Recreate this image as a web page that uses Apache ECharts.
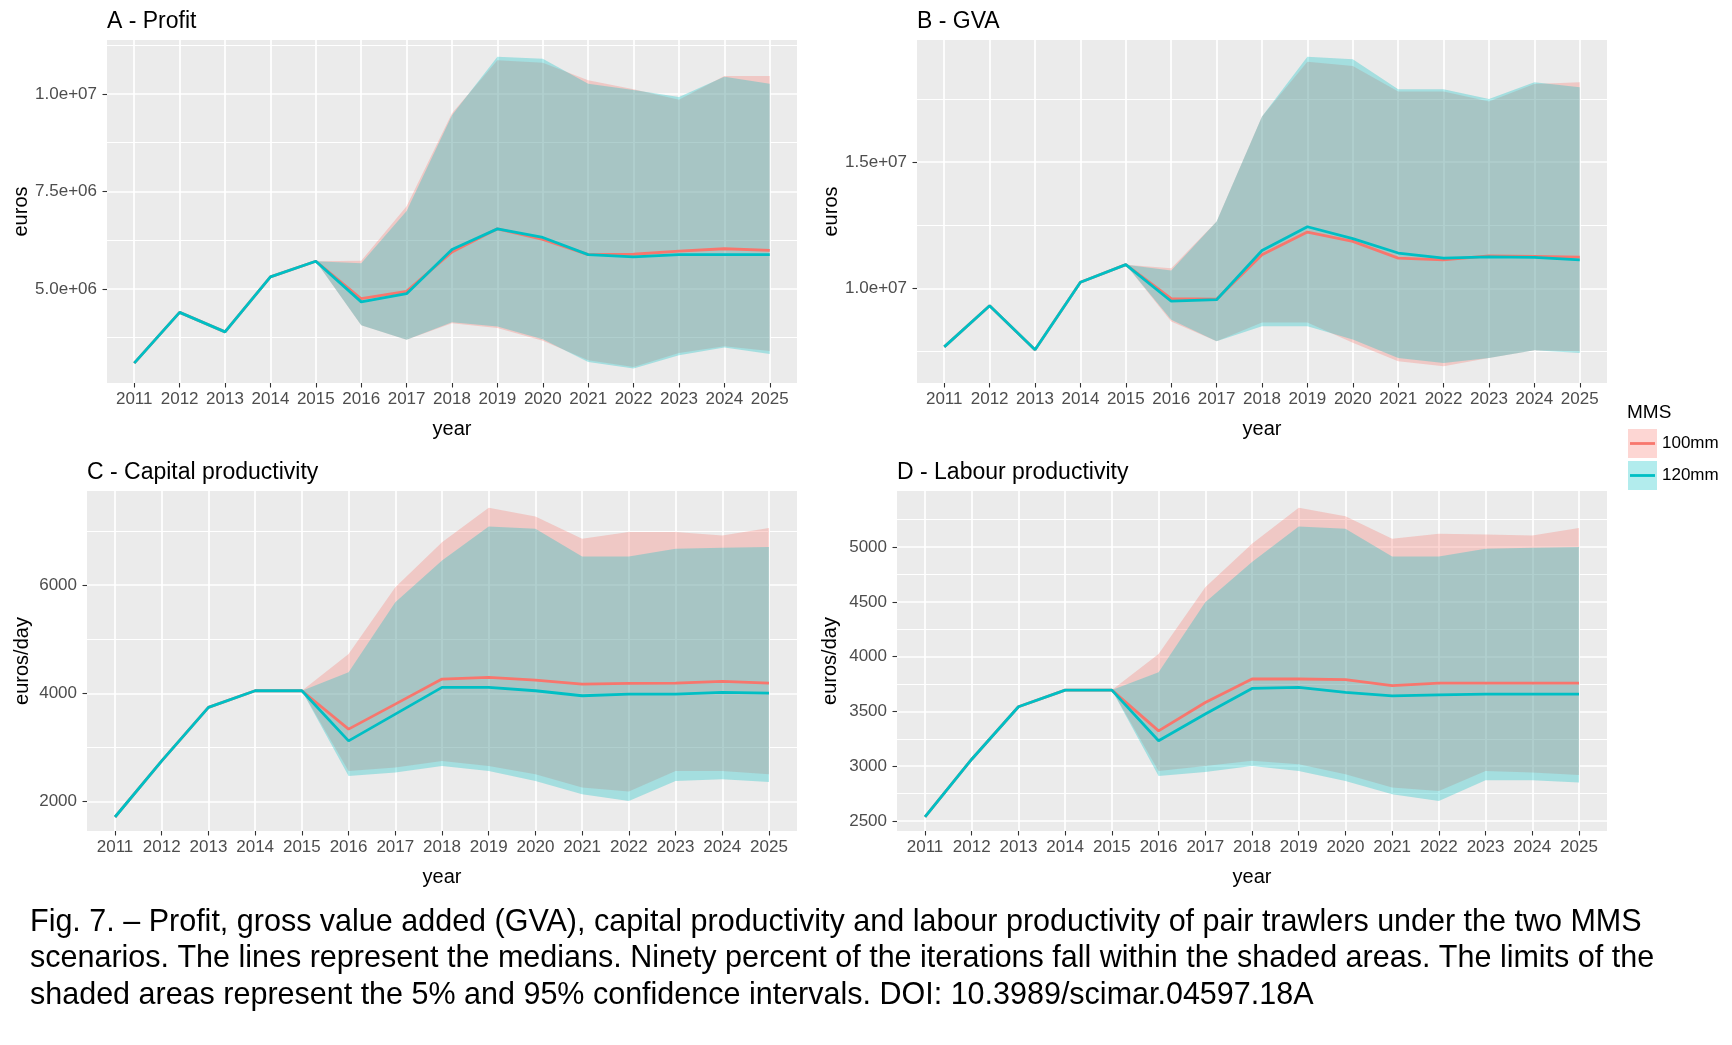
<!DOCTYPE html>
<html>
<head>
<meta charset="utf-8">
<script src="https://cdn.jsdelivr.net/npm/echarts@6/dist/echarts.min.js"></script>
<style>
html, body { margin: 0; padding: 0; background: #fff; }
#chart { width: 1732px; height: 1045px; }
</style>
</head>
<body>
<div id="chart"></div>
<script>
// years on the x axis, ribbons only start in 2015
var years = [2011, 2012, 2013, 2014, 2015, 2016, 2017, 2018, 2019, 2020, 2021, 2022, 2023, 2024, 2025];
var bandYears = [2015, 2016, 2017, 2018, 2019, 2020, 2021, 2022, 2023, 2024, 2025];
var scenarios = ['100mm', '120mm'];

// A - Profit (euros)
var profitMed100 = [3.10e6, 4.40e6, 3.90e6, 5.31e6, 5.71e6, 4.75e6, 4.94e6, 5.95e6, 6.54e6, 6.27e6, 5.88e6, 5.89e6, 5.97e6, 6.03e6, 5.99e6];
var profitMed120 = [3.10e6, 4.40e6, 3.90e6, 5.31e6, 5.71e6, 4.67e6, 4.88e6, 6.01e6, 6.54e6, 6.32e6, 5.88e6, 5.82e6, 5.88e6, 5.88e6, 5.88e6];
var profitLo100 = [5.71e6, 4.07e6, 3.70e6, 4.12e6, 4.00e6, 3.67e6, 3.17e6, 3.00e6, 3.36e6, 3.53e6, 3.41e6];
var profitHi100 = [5.71e6, 5.72e6, 7.12e6, 9.50e6, 1.086e7, 1.080e7, 1.035e7, 1.012e7, 9.85e6, 1.046e7, 1.046e7];
var profitLo120 = [5.71e6, 4.07e6, 3.70e6, 4.15e6, 4.04e6, 3.71e6, 3.13e6, 2.96e6, 3.30e6, 3.50e6, 3.33e6];
var profitHi120 = [5.71e6, 5.66e6, 7.00e6, 9.45e6, 1.095e7, 1.090e7, 1.026e7, 1.010e7, 9.92e6, 1.044e7, 1.026e7];

// B - GVA (euros)
var gvaMed100 = [7.68e6, 9.31e6, 7.57e6, 1.024e7, 1.094e7, 9.59e6, 9.57e6, 1.133e7, 1.223e7, 1.186e7, 1.120e7, 1.113e7, 1.129e7, 1.127e7, 1.124e7];
var gvaMed120 = [7.68e6, 9.31e6, 7.57e6, 1.024e7, 1.094e7, 9.49e6, 9.55e6, 1.150e7, 1.244e7, 1.197e7, 1.140e7, 1.120e7, 1.125e7, 1.123e7, 1.113e7];
var gvaLo100 = [1.094e7, 8.69e6, 7.90e6, 8.65e6, 8.65e6, 7.84e6, 7.11e6, 6.91e6, 7.24e6, 7.55e6, 7.51e6];
var gvaHi100 = [1.094e7, 1.080e7, 1.265e7, 1.681e7, 1.898e7, 1.881e7, 1.780e7, 1.780e7, 1.740e7, 1.810e7, 1.817e7];
var gvaLo120 = [1.094e7, 8.76e6, 7.90e6, 8.50e6, 8.50e6, 7.97e6, 7.24e6, 7.04e6, 7.24e6, 7.55e6, 7.44e6];
var gvaHi120 = [1.094e7, 1.071e7, 1.265e7, 1.681e7, 1.918e7, 1.908e7, 1.789e7, 1.789e7, 1.750e7, 1.817e7, 1.797e7];

// C - Capital productivity (euros/day)
var capMed100 = [1716, 2753, 3741, 4049, 4049, 3340, 3802, 4265, 4296, 4247, 4173, 4185, 4191, 4222, 4191];
var capMed120 = [1716, 2753, 3741, 4049, 4049, 3123, 3617, 4111, 4111, 4049, 3957, 3988, 3988, 4019, 4006];
var capLo100 = [4049, 2568, 2630, 2753, 2660, 2506, 2259, 2185, 2568, 2568, 2506];
var capHi100 = [4049, 4728, 5963, 6796, 7432, 7272, 6858, 6981, 6981, 6920, 7056];
var capLo120 = [4049, 2475, 2537, 2660, 2568, 2383, 2136, 2012, 2383, 2414, 2364];
var capHi120 = [4049, 4389, 5685, 6457, 7086, 7043, 6531, 6531, 6673, 6691, 6704];

// D - Labour productivity (euros/day)
var labMed100 = [2537, 3064, 3543, 3695, 3695, 3323, 3582, 3796, 3796, 3790, 3735, 3759, 3759, 3759, 3759];
var labMed120 = [2537, 3064, 3543, 3695, 3695, 3232, 3476, 3710, 3720, 3674, 3643, 3652, 3659, 3659, 3659];
var labLo100 = [3695, 2957, 3003, 3049, 3018, 2927, 2805, 2774, 2957, 2942, 2921];
var labHi100 = [3695, 4024, 4634, 5031, 5360, 5281, 5076, 5122, 5116, 5107, 5174];
var labLo120 = [3695, 2912, 2948, 3003, 2957, 2866, 2744, 2683, 2872, 2872, 2851];
var labHi120 = [3695, 3857, 4497, 4863, 5189, 5168, 4915, 4915, 4985, 4994, 5000];

// y tick values (major with labels, minor only gridlines)
var profitTicks = [5e6, 7.5e6, 1e7];
var profitMinor = [3.75e6, 6.25e6, 8.75e6, 1.125e7];
var gvaTicks = [1e7, 1.5e7];
var gvaMinor = [7.5e6, 1.25e7, 1.75e7];
var capTicks = [2000, 4000, 6000];
var capMinor = [3000, 5000, 7000];
var labTicks = [2500, 3000, 3500, 4000, 4500, 5000];
var labMinor = [2750, 3250, 3750, 4250, 4750, 5250];

var captionLines = [
    'Fig. 7. \u2013 Profit, gross value added (GVA), capital productivity and labour productivity of pair trawlers under the two MMS',
    'scenarios. The lines represent the medians. Ninety percent of the iterations fall within the shaded areas. The limits of the',
    'shaded areas represent the 5% and 95% confidence intervals. DOI: 10.3989/scimar.04597.18A'
];

var FONT = '"Liberation Sans", Arial, sans-serif';
var RED = '#F8766D', CYAN = '#00BFC4';

var mychart = echarts.init(document.getElementById('chart'));

// 1.0e+07 style labels like R
function sci(v) {
    var s = v.toExponential(1).split('e');
    var e = s[1];
    var sign = e.charAt(0);
    var d = e.slice(1);
    if (d.length < 2) d = '0' + d;
    return s[0] + 'e' + sign + d;
}

function pairs(xs, ys) {
    return xs.map(function (x, i) { return [x, ys[i]]; });
}

// whole ribbon as one polygon: upper edge forward, lower edge back
function ribbon(lo, hi, color) {
    return function (params, api) {
        if (params.dataIndex !== 0) return null;
        var pts = [];
        for (var j = 0; j < bandYears.length; j++) pts.push(api.coord([bandYears[j], hi[j]]));
        for (var k = bandYears.length - 1; k >= 0; k--) pts.push(api.coord([bandYears[k], lo[k]]));
        return {type: 'polygon', shape: {points: pts}, style: {fill: color, opacity: 0.3}};
    };
}

var panels = [
    {title: 'A - Profit', yName: 'euros', left: 107, top: 40, width: 690, height: 343,
     yMin: 2.59e6, yMax: 1.138e7, ticks: profitTicks, minor: profitMinor, fmt: sci, nameGap: 74,
     med: [profitMed100, profitMed120], lo: [profitLo100, profitLo120], hi: [profitHi100, profitHi120]},
    {title: 'B - GVA', yName: 'euros', left: 917, top: 40, width: 690, height: 343,
     yMin: 6.25e6, yMax: 1.984e7, ticks: gvaTicks, minor: gvaMinor, fmt: sci, nameGap: 76,
     med: [gvaMed100, gvaMed120], lo: [gvaLo100, gvaLo120], hi: [gvaHi100, gvaHi120]},
    {title: 'C - Capital productivity', yName: 'euros/day', left: 87, top: 491, width: 710, height: 340,
     yMin: 1457, yMax: 7741, ticks: capTicks, minor: capMinor, fmt: String, nameGap: 55,
     med: [capMed100, capMed120], lo: [capLo100, capLo120], hi: [capHi100, capHi120]},
    {title: 'D - Labour productivity', yName: 'euros/day', left: 897, top: 491, width: 710, height: 340,
     yMin: 2409, yMax: 5512, ticks: labTicks, minor: labMinor, fmt: String, nameGap: 57,
     med: [labMed100, labMed120], lo: [labLo100, labLo120], hi: [labHi100, labHi120]}
];

var grids = [], xAxes = [], yAxes = [], series = [], graphics = [];
var colors = [RED, CYAN];

panels.forEach(function (p, i) {
    grids.push({left: p.left, top: p.top, width: p.width, height: p.height,
        show: true, backgroundColor: '#EBEBEB', borderWidth: 0, containLabel: false});

    xAxes.push({
        type: 'value', gridIndex: i, min: 2010.4, max: 2025.6, position: 'bottom',
        name: 'year', nameLocation: 'middle', nameGap: 36,
        nameTextStyle: {color: '#000', fontSize: 20, fontFamily: FONT},
        axisLine: {show: false},
        axisTick: {show: true, length: 4.5, customValues: years, lineStyle: {color: '#333', width: 1.1}},
        axisLabel: {customValues: years, formatter: function (v) { return String(v); },
            color: '#4D4D4D', fontSize: 17, fontFamily: FONT, margin: 8},
        splitLine: {show: true, lineStyle: {color: '#fff', width: 1.7}}
    });

    // minor gridlines
    yAxes.push({
        type: 'value', gridIndex: i, min: p.yMin, max: p.yMax, position: 'left',
        axisLine: {show: false}, axisLabel: {show: false},
        axisTick: {show: false, customValues: p.minor},
        splitLine: {show: true, lineStyle: {color: '#fff', width: 1.2}}
    });
    // major gridlines + labels
    yAxes.push({
        type: 'value', gridIndex: i, min: p.yMin, max: p.yMax, position: 'left',
        name: p.yName, nameLocation: 'middle', nameGap: p.nameGap,
        nameTextStyle: {color: '#000', fontSize: 20, fontFamily: FONT},
        axisLine: {show: false},
        axisTick: {show: true, length: 4.5, customValues: p.ticks, lineStyle: {color: '#333', width: 1.1}},
        axisLabel: {customValues: p.ticks, formatter: p.fmt, color: '#4D4D4D', fontSize: 17, fontFamily: FONT, margin: 10},
        splitLine: {show: true, lineStyle: {color: '#fff', width: 1.7}}
    });

    var yIdx = 2 * i + 1;
    // ribbons (5% - 95%)
    for (var s = 0; s < 2; s++) {
        series.push({
            name: scenarios[s], type: 'custom', xAxisIndex: i, yAxisIndex: yIdx,
            data: bandYears.map(function (y, j) { return [y, p.lo[s][j], p.hi[s][j]]; }),
            encode: {x: 0, y: [1, 2]},
            renderItem: ribbon(p.lo[s], p.hi[s], colors[s]),
            silent: true, z: 1
        });
    }
    // median lines
    for (var m = 0; m < 2; m++) {
        series.push({
            name: scenarios[m],
            type: 'line', xAxisIndex: i, yAxisIndex: yIdx,
            data: pairs(years, p.med[m]), showSymbol: false, silent: true,
            lineStyle: {color: colors[m], width: 2.8}, z: 3
        });
    }

    graphics.push({
        type: 'text', left: p.left, top: p.top - 30,
        style: {text: p.title, fill: '#000', font: '23px ' + FONT}
    });
});

// legend
graphics.push({type: 'text', left: 1627, top: 403, style: {text: 'MMS', fill: '#000', font: '19px ' + FONT}});
scenarios.forEach(function (name, k) {
    var y0 = 429 + k * 32;
    graphics.push({type: 'rect', shape: {x: 1628, y: y0, width: 29, height: 29},
        style: {fill: colors[k], opacity: 0.3}});
    graphics.push({type: 'line', shape: {x1: 1630, y1: y0 + 14.5, x2: 1655, y2: y0 + 14.5},
        style: {stroke: colors[k], lineWidth: 2.8}});
    graphics.push({type: 'text', x: 1662, y: y0 + 14.5,
        style: {text: name, fill: '#000', font: '17px ' + FONT, verticalAlign: 'middle'}});
});

// caption
graphics.push({type: 'text', x: 30, y: 904,
    style: {text: captionLines.join('\n'), fill: '#000', font: '30.5px ' + FONT, lineHeight: 36.5, verticalAlign: 'top'}});

option = {
    animation: false,
    backgroundColor: '#fff',
    grid: grids,
    xAxis: xAxes,
    yAxis: yAxes,
    series: series,
    graphic: graphics
};
mychart.setOption(option);
</script>
</body>
</html>
